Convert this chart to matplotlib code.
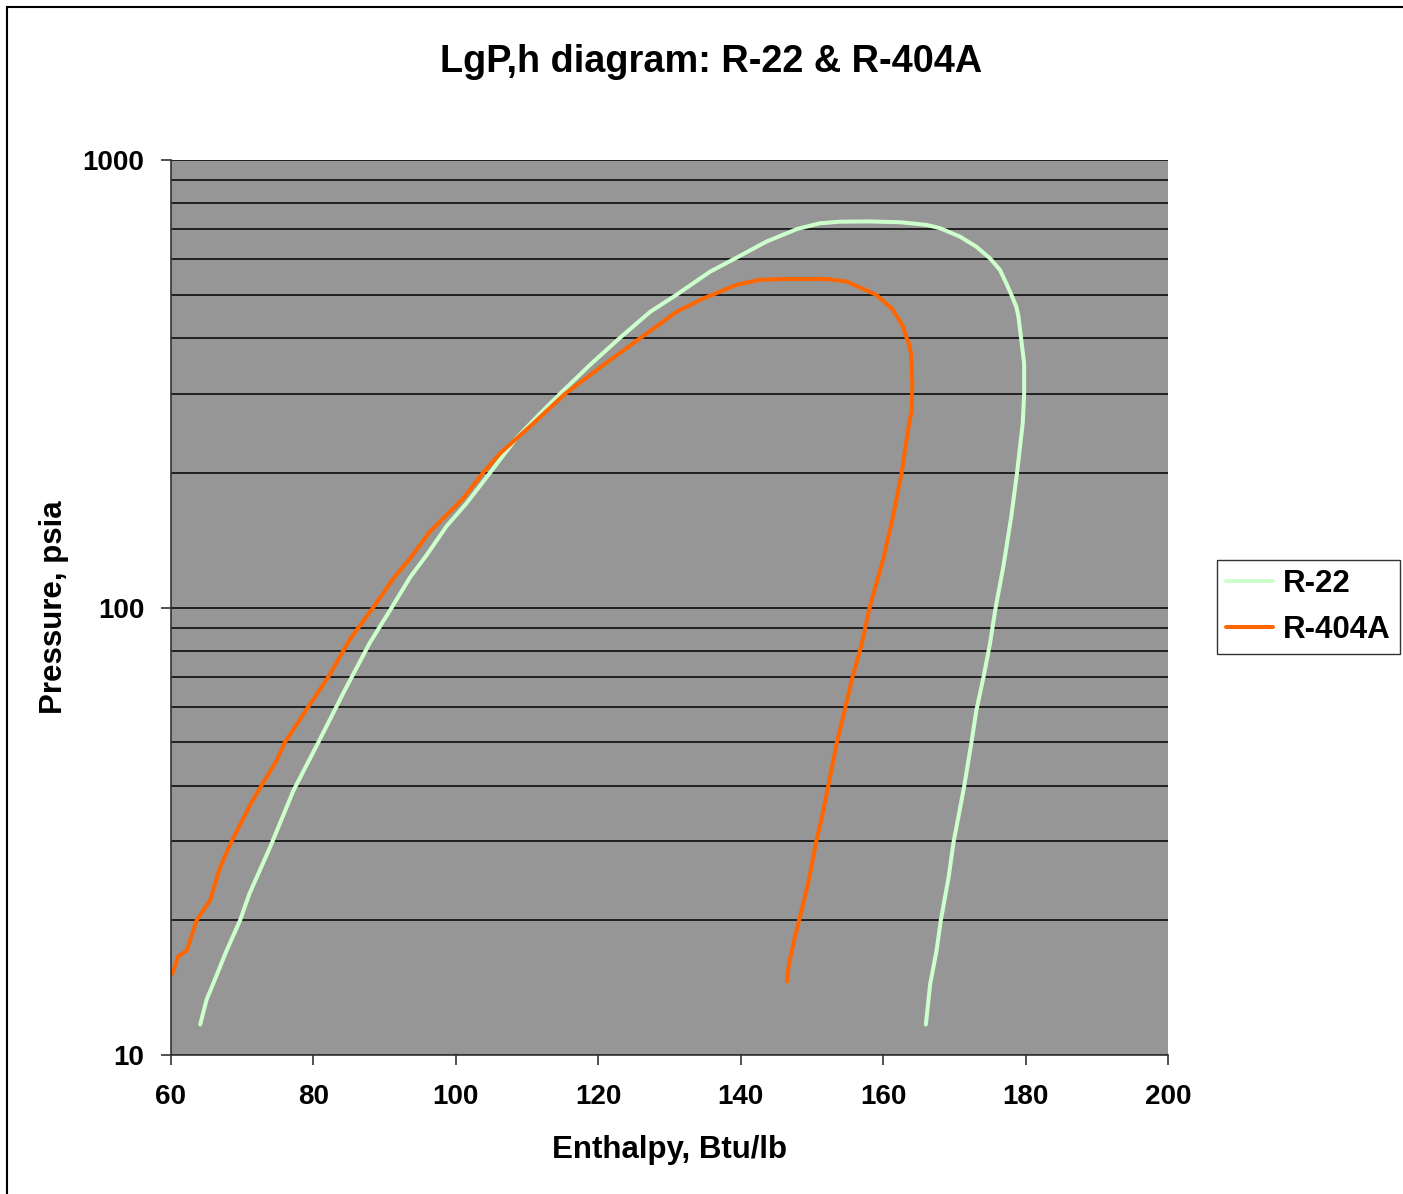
import matplotlib
matplotlib.use('Agg')
import matplotlib.pyplot as plt
from matplotlib.patches import Rectangle
from matplotlib.ticker import LogLocator, NullFormatter, FixedLocator

plt.rcParams['font.family'] = ['Liberation Sans', 'DejaVu Sans']
plt.rcParams['font.weight'] = 'bold'

# === Данные ===
r22_h = [64.1, 65.0, 65.9, 67.8, 69.7, 71.0, 73.9, 77.2, 80.7, 84.2, 87.9, 89.3,
         91.0, 93.6, 95.9, 98.7, 101.5, 104.8, 108.5, 111.8, 114.6, 118.8, 123.0,
         127.3, 131.0, 135.7, 139.0, 143.6, 147.9, 151.1, 153.9, 158.0, 162.4, 166.1,
         168.0, 170.8, 173.1, 175.0, 176.4, 177.3, 178.0, 178.7, 179.0, 179.4, 179.8,
         179.8, 179.6, 178.8, 178.0, 176.9, 175.8, 175.0, 174.1, 173.1, 172.4, 171.4,
         170.5, 169.9, 169.2, 168.1, 167.5, 166.6, 166.0]
r22_p = [11.7, 13.3, 14.4, 17.1, 20, 22.9, 29.1, 39.0, 50, 64.4, 83.3, 90.5,
         100, 117, 131, 152, 171, 200, 239, 271, 300, 348, 400,
         458, 500, 563, 600, 657, 701, 722, 728, 729, 726, 716,
         704, 674, 640, 603, 568, 530, 500, 470, 447, 396, 351,
         300, 258, 200, 160, 124, 100, 83, 70, 59, 50, 40,
         33.6, 30, 25, 20, 17.1, 14.4, 11.7]

r404a_h = [60.2, 61.0, 62.2, 63.6, 65.5, 66.9, 68.5, 71.3, 72.7, 74.8, 76.0, 79.1,
           82.1, 85.1, 86.5, 88.4, 91.2, 93.6, 96.4, 98.7, 101.0, 103.8, 106.2,
           110.9, 115.3, 120.7, 125.9, 131.0, 134.7, 139.4, 142.7, 145.9, 152.1, 154.9,
           159.0, 161.2, 162.1, 162.8, 163.3, 163.6, 163.9, 164.1, 164.0, 163.5, 162.6,
           161.4, 160.0, 158.1, 157.0, 155.7, 154.6, 153.5, 152.3, 151.4, 150.6, 149.5,
           148.2, 147.4, 146.7, 146.5]
r404a_p = [15.2, 16.6, 17.1, 20, 22.2, 26.3, 30, 36.7, 40, 45.4, 50, 59.4,
           70, 84.8, 91, 100, 116, 129, 148, 161, 175, 200, 221,
           258, 300, 348, 400, 458, 490, 526, 540, 542, 542, 535,
           500, 466, 443, 424, 400, 389, 370, 317, 276, 249, 200,
           160, 128, 100, 83, 70, 59, 50, 40, 34, 30, 24.3,
           20, 17.8, 15.7, 14.6]

fig = plt.figure(figsize=(14.03, 11.94), dpi=100)
ax = fig.add_axes([171 / 1403, 1 - 1055 / 1194, (1168 - 171) / 1403, (1055 - 160) / 1194])
ax.set_facecolor('#969696')

ax.plot(r22_h, r22_p, color='#CCFFCC', lw=2.9, label='R-22', solid_capstyle='round')
ax.plot(r404a_h, r404a_p, color='#FF6600', lw=2.9, label='R-404A', solid_capstyle='round')

ax.set_yscale('log')
ax.set_xlim(60, 200)
ax.set_ylim(10, 1000)
ax.set_xticks(range(60, 201, 20))
ax.yaxis.set_major_locator(FixedLocator([10, 100, 1000]))
ax.set_yticklabels(['10', '100', '1000'])
ax.yaxis.set_minor_locator(LogLocator(base=10, subs=range(2, 10)))
ax.yaxis.set_minor_formatter(NullFormatter())

# горизонтальная сетка как в Excel
ax.grid(True, which='both', axis='y', color='black', lw=1.1)
ax.set_axisbelow(True)

ax.tick_params(axis='both', which='major', direction='out', length=7, width=1.2,
               labelsize=20, colors='#333333', labelcolor='black')
ax.tick_params(axis='y', which='minor', length=0)
ax.tick_params(axis='y', pad=12)
ax.tick_params(axis='x', pad=14)

for s in ['top', 'right']:
    ax.spines[s].set_visible(False)
for s in ['left', 'bottom']:
    ax.spines[s].set_color('#333333')
    ax.spines[s].set_linewidth(1.2)

ax.set_xlabel('Enthalpy, Btu/lb', fontsize=22.5, fontweight='bold', labelpad=18)
ax.set_ylabel('Pressure, psia', fontsize=22.5, fontweight='bold', labelpad=10)
fig.text(711 / 1403, 1 - 62 / 1194, 'LgP,h diagram: R-22 & R-404A',
         ha='center', va='center', fontsize=27.3, fontweight='bold')

leg = ax.legend(loc='center left', bbox_to_anchor=(1217 / 1403, 1 - 607 / 1194),
                bbox_transform=fig.transFigure, fontsize=22.5, frameon=True,
                fancybox=False, edgecolor='black', handlelength=1.5,
                handletextpad=0.3, labelspacing=0.5, borderpad=0.3, borderaxespad=0)
leg.get_frame().set_linewidth(1.0)

# рамка вокруг всей диаграммы
fig.patches.append(Rectangle((7 / 1403, -0.05), 1.1, 1.05 - 7 / 1194, transform=fig.transFigure,
                             fill=False, edgecolor='black', lw=1.5))

plt.savefig('out.png', dpi=100)
plt.close()
